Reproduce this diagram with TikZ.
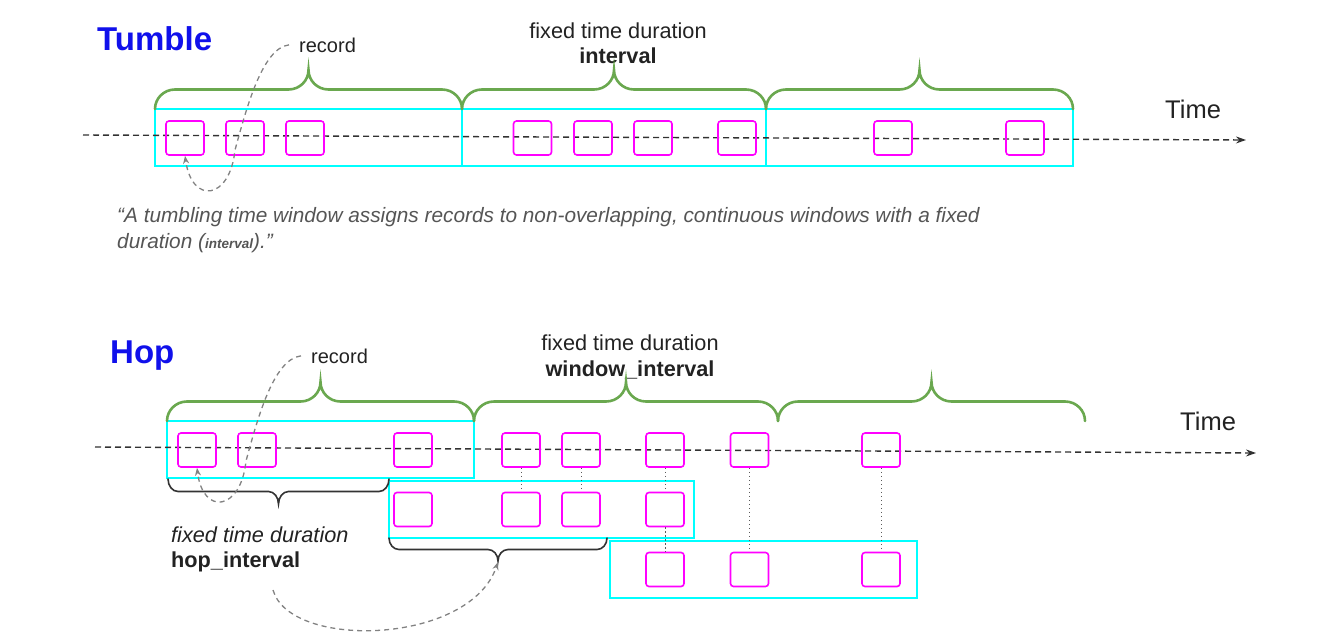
\documentclass[tikz,border=0pt]{standalone}
\usepackage{fontspec}
\setmainfont{Liberation Sans}
\usetikzlibrary{arrows.meta}
\definecolor{gbrace}{RGB}{106,168,79}
\definecolor{cyanw}{RGB}{0,255,255}
\definecolor{mag}{RGB}{255,0,255}
\definecolor{ttl}{RGB}{16,16,235}
\definecolor{txt}{RGB}{34,34,34}
\definecolor{qtxt}{RGB}{85,85,85}
\definecolor{dashc}{RGB}{50,50,50}
\definecolor{curvec}{RGB}{130,130,130}
\definecolor{kbrace}{RGB}{51,51,51}
\newcommand\wbrace[6]{%
 \pgfmathsetmacro\wbA{#2}\pgfmathsetmacro\wbB{#3}\pgfmathsetmacro\wbY{#4}%
 \pgfmathsetmacro\wbH{#5}\pgfmathsetmacro\wbR{#6}%
 \pgfmathsetmacro\wbM{(\wbA+\wbB)/2}%
 \pgfmathsetmacro\wbYa{\wbY+0.276*\wbH}\pgfmathsetmacro\wbYh{\wbY+0.5*\wbH}%
 \pgfmathsetmacro\wbYt{\wbY+\wbH}\pgfmathsetmacro\wbYc{\wbY+0.724*\wbH}%
 \draw[#1] (\wbA,\wbY) .. controls (\wbA,\wbYa) and ({\wbA+0.448*\wbR},\wbYh) .. ({\wbA+\wbR},\wbYh)
   -- ({\wbM-\wbR},\wbYh) .. controls ({\wbM-0.448*\wbR},\wbYh) and (\wbM,\wbYc) .. (\wbM,\wbYt)
   .. controls (\wbM,\wbYc) and ({\wbM+0.448*\wbR},\wbYh) .. ({\wbM+\wbR},\wbYh)
   -- ({\wbB-\wbR},\wbYh) .. controls ({\wbB-0.448*\wbR},\wbYh) and (\wbB,\wbYa) .. (\wbB,\wbY);%
}
\tikzset{
 rec/.style={draw=mag, line width=1.6pt, rounded corners=3pt, minimum width=38pt, minimum height=34pt, inner sep=0pt},
 win/.style={draw=cyanw, line width=1.5pt},
 gbr/.style={draw=gbrace, line width=2.6pt, line cap=round},
 kbr/.style={draw=kbrace, line width=1.6pt, line cap=round},
 axis/.style={draw=dashc, line width=1.4pt, dash pattern=on 6pt off 4pt, -{Stealth[length=10pt,width=7pt]}},
 reccurve/.style={draw=curvec, line width=1.3pt, dash pattern=on 5pt off 4pt, -{Stealth[length=8pt,width=6pt]}},
 link/.style={draw=curvec!70!black, line width=1pt, dash pattern=on 1.5pt off 2.5pt},
 title/.style={text=ttl, font=\fontsize{33}{36}\selectfont\bfseries, inner sep=0pt},
 lbl/.style={text=txt, font=\fontsize{21.7}{26}\selectfont, inner sep=0pt},
 lblb/.style={text=txt, font=\fontsize{21.7}{26}\selectfont\bfseries, inner sep=0pt},
 reclbl/.style={text=txt, font=\fontsize{20}{24}\selectfont, inner sep=0pt},
 timel/.style={text=txt, font=\fontsize{25.5}{30}\selectfont, inner sep=0pt},
 quote/.style={text=qtxt, font=\fontsize{20.8}{26}\selectfont\itshape, inner sep=0pt},
}
\begin{document}
\begin{tikzpicture}[x=1pt,y=-1pt]
\useasboundingbox (0,0) rectangle (1321,637);
% ---------------- Tumble ----------------
\node[title, anchor=base west] (ttitle) at (97,50) {Tumble};
\node[reclbl, anchor=base west] (trec) at (299,52) {record};
\node[lbl, anchor=base] (tfix) at (618,38) {fixed time duration};
\node[lblb, anchor=base] (tint) at (618,63) {interval};
\node[timel, anchor=base west] (ttime) at (1165,118) {Time};
% windows
\draw[win] (155,109) rectangle (462,166);
\draw[win] (462,109) rectangle (766,166);
\draw[win] (766,109) rectangle (1073,166);
% braces
\wbrace{gbr}{155}{462}{109}{-39}{20}
\wbrace{gbr}{462}{766}{109}{-39}{20}
\wbrace{gbr}{766}{1073}{109}{-39}{20}
% axis
\coordinate (ta0) at (83,135);
\coordinate (ta1) at (1246,140);
\draw[axis] (ta0) -- (ta1);
% records
\foreach \n/\x in {1/185,2/245,3/305,4/532.5,5/593,6/653,7/737,8/893,9/1025}
  \node[rec] (t\n) at (\x,138) {};
\draw[reccurve] ([xshift=-10pt]trec.west) .. controls (262,48) and (246,110) .. (235,150)
   .. controls (230,200) and (192,205) .. (t1.south);
% quote
\node[quote, anchor=base west] (q1) at (117,222) {“A tumbling time window assigns records to non-overlapping, continuous windows with a fixed};
\node[quote, anchor=base west] (q2) at (117,248) {duration ({\fontsize{13.5}{14}\selectfont\bfseries interval}).”};
% ---------------- Hop ----------------
\node[title, anchor=base west] (htitle) at (110,363) {Hop};
\node[reclbl, anchor=base west] (hrec) at (311,363) {record};
\node[lbl, anchor=base] (hfix) at (630,350) {fixed time duration};
\node[lblb, anchor=base] (hwin) at (630,376) {window\_interval};
\node[timel, anchor=base west] (htime) at (1180,430) {Time};
\node[lbl, anchor=base west, font=\fontsize{21.7}{26}\selectfont\itshape] (hopfix) at (171,542) {fixed time duration};
\node[lblb, anchor=base west] (hopint) at (171,567) {hop\_interval};
% windows
\draw[win] (167,421) rectangle (474,478);
\draw[win] (389,481) rectangle (694,538);
\draw[win] (610,541) rectangle (917,598);
% braces
\wbrace{gbr}{167}{474}{421}{-39}{20}
\wbrace{gbr}{474}{778}{421}{-39}{20}
\wbrace{gbr}{778}{1085}{421}{-39}{20}
\wbrace{kbr}{168}{389}{479}{25}{10}
\wbrace{kbr}{389}{607}{538}{23}{10}
\coordinate (hb2tip) at (498,562);
% axis
\coordinate (ha0) at (95,447);
\coordinate (ha1) at (1256,453);
\draw[axis] (ha0) -- (ha1);
% records row 1
\foreach \n/\x in {1/197,2/257,3/413,4/521,5/581,6/665,7/749.5,8/881}
  \node[rec] (h\n) at (\x,450) {};
% row 2
\foreach \n/\x in {1/413,2/521,3/581,4/665}
  \node[rec] (m\n) at (\x,509.5) {};
% row 3
\foreach \n/\x in {1/665,2/749.5,3/881}
  \node[rec] (l\n) at (\x,569.5) {};
% links
\draw[link] (h4.south) -- (m2.north);
\draw[link] (h5.south) -- (m3.north);
\draw[link] (h6.south) -- (m4.north);
\draw[link] (m4.south) -- (l1.north);
\draw[link] (h7.south) -- (l2.north);
\draw[link] (h8.south) -- (l3.north);
% curves
\draw[reccurve] ([xshift=-10pt]hrec.west) .. controls (273,359) and (257,421) .. (246,461)
   .. controls (241,511) and (203,516) .. (h1.south);
\coordinate (hc0) at (273,590);
\draw[reccurve] (hc0) .. controls (290,650) and (470,645) .. (hb2tip);
\end{tikzpicture}
\end{document}
